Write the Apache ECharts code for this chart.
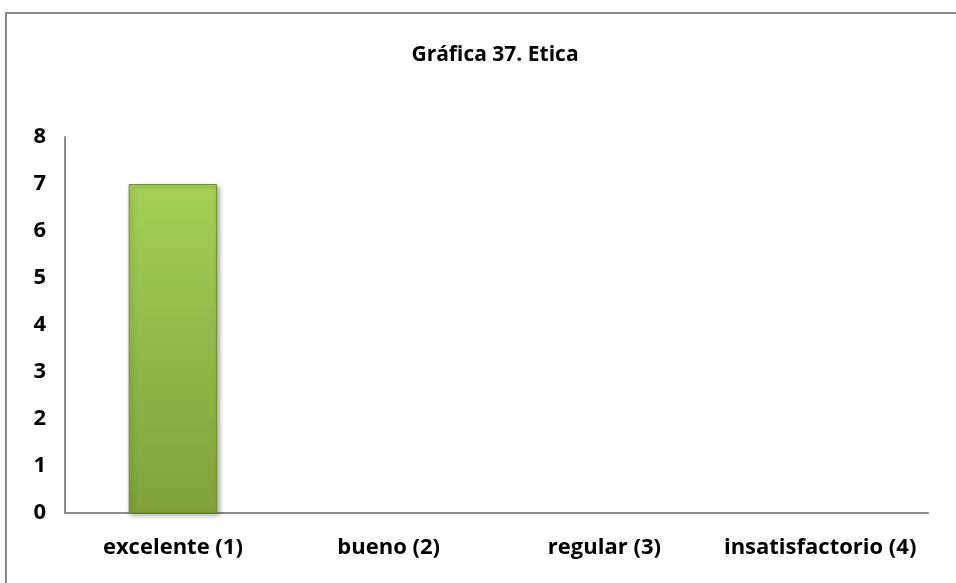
<!DOCTYPE html>
<html>
<head>
<meta charset="utf-8">
<script src="https://cdn.jsdelivr.net/npm/echarts@6/dist/echarts.min.js"></script>
<style>
  html, body { margin: 0; padding: 0; background: #ffffff; }
  #chart { width: 956px; height: 583px; }
</style>
</head>
<body>
<div id="chart"></div>
<script>
// Evaluation categories and counts
const categories = ['excelente (1)', 'bueno (2)', 'regular (3)', 'insatisfactorio (4)'];
const counts = [7, 0, 0, 0];
const yTicks = [0, 1, 2, 3, 4, 5, 6, 7, 8];

const chart = echarts.init(document.getElementById('chart'), null, { renderer: 'canvas' });

const fontFamily = '"Open Sans", "Noto Sans", sans-serif';

// Empty categories get no visible bar (no outline or shadow sliver)
const barData = counts.map(v => v === 0 ? { value: v, itemStyle: { opacity: 0 } } : v);

chart.setOption({
  backgroundColor: '#ffffff',
  animation: false,
  title: {
    text: 'Gráfica 37. Etica',
    left: 490,
    textAlign: 'center',
    top: 40,
    textStyle: { fontFamily, fontWeight: 'bold', fontSize: 21, color: '#000000' }
  },
  graphic: [{
    type: 'rect',
    shape: { x: 6, y: 13, width: 980, height: 620 },
    style: { fill: 'none', stroke: '#878787', lineWidth: 2 },
    silent: true,
    z: 0
  }],
  grid: { left: 65, right: 28, top: 137, bottom: 70 },
  xAxis: {
    type: 'category',
    data: categories,
    axisLine: { show: true, lineStyle: { color: '#8c8c8c', width: 2 } },
    axisTick: { show: false },
    axisLabel: {
      interval: 0,
      hideOverlap: false,
      fontFamily, fontWeight: 'bold', fontSize: 22, color: '#000000', margin: 24
    }
  },
  yAxis: {
    type: 'value',
    min: yTicks[0],
    max: yTicks[yTicks.length - 1],
    interval: 1,
    axisLine: { show: true, lineStyle: { color: '#8c8c8c', width: 2 } },
    axisTick: { show: false },
    splitLine: { show: false },
    axisLabel: { fontFamily, fontWeight: 'bold', fontSize: 22, color: '#000000', margin: 19 }
  },
  series: [{
    type: 'bar',
    data: barData,
    barWidth: '41%',
    itemStyle: {
      color: new echarts.graphic.LinearGradient(0, 0, 0, 1, [
        { offset: 0, color: '#a5cf56' },
        { offset: 1, color: '#7fa23a' }
      ]),
      borderColor: '#6f8f30',
      borderWidth: 1,
      shadowColor: 'rgba(0,0,0,0.35)',
      shadowBlur: 5,
      shadowOffsetX: 2,
      shadowOffsetY: 2
    }
  }]
});
</script>
</body>
</html>
